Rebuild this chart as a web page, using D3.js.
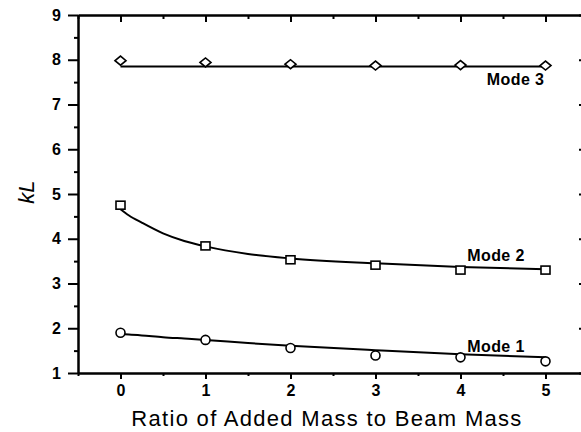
<!DOCTYPE html>
<html>
<head>
<meta charset="utf-8">
<script src="https://cdn.jsdelivr.net/npm/d3@7"></script>
<style>
  body { margin: 0; background: #fff; }
  svg text { font-family: "Liberation Sans", Arial, sans-serif; fill: #000; }
</style>
</head>
<body>
<svg id="chart" width="581" height="432"></svg>
<script>
// measured points
const ratio = [0, 1, 2, 3, 4, 5];
const mode1 = [1.90, 1.74, 1.56, 1.39, 1.35, 1.26];
const mode2 = [4.75, 3.84, 3.53, 3.41, 3.30, 3.30];
const mode3 = [7.98, 7.94, 7.90, 7.87, 7.88, 7.87];

// fitted curves
const fitX = [0, 0.1, 0.25, 0.5, 0.75, 1, 1.5, 2, 3, 4, 5];
const fit1 = [1.87, 1.86, 1.84, 1.80, 1.77, 1.74, 1.67, 1.61, 1.51, 1.42, 1.35];
const fit2 = [4.66, 4.52, 4.36, 4.12, 3.95, 3.83, 3.66, 3.56, 3.45, 3.37, 3.32];
const fit3 = [7.85, 7.85, 7.85, 7.85, 7.85, 7.85, 7.85, 7.85, 7.85, 7.85, 7.85];

const xTicks = [0, 1, 2, 3, 4, 5];
const yTicks = [1, 2, 3, 4, 5, 6, 7, 8, 9];

const svg = d3.select("#chart");

const x = d3.scaleLinear().domain([-0.5, 5.5]).range([78, 588]);
const y = d3.scaleLinear().domain([1, 9]).range([373, 15]);

const minorX = d3.range(-0.5, 5.51, 0.5).filter(v => !xTicks.includes(v));
const minorY = d3.range(1, 9.01, 0.5).filter(v => !yTicks.includes(v));

// axes
function styleAxis(g) {
    g.select(".domain").attr("stroke", "#000").attr("stroke-width", 2);
    g.selectAll(".tick line").attr("stroke", "#000").attr("stroke-width", 2);
    g.selectAll(".tick text")
        .style("font-size", "16px")
        .style("font-weight", "bold");
}

svg.append("g")
    .attr("transform", "translate(0,373)")
    .call(d3.axisBottom(x).tickValues(xTicks).tickSize(6).tickPadding(6).tickFormat(d3.format("d")).tickSizeOuter(0))
    .call(styleAxis);
svg.append("g")
    .attr("transform", "translate(0,373)")
    .call(d3.axisBottom(x).tickValues(minorX).tickSize(3).tickFormat("").tickSizeOuter(0))
    .call(styleAxis);

svg.append("g")
    .attr("transform", "translate(0,15)")
    .call(d3.axisTop(x).tickValues(xTicks).tickSize(-7).tickFormat("").tickSizeOuter(0))
    .call(styleAxis);
svg.append("g")
    .attr("transform", "translate(0,15)")
    .call(d3.axisTop(x).tickValues(minorX).tickSize(-4).tickFormat("").tickSizeOuter(0))
    .call(styleAxis);

svg.append("g")
    .attr("transform", "translate(78,0)")
    .call(d3.axisLeft(y).tickValues(yTicks).tickSize(10).tickPadding(7).tickFormat(d3.format("d")).tickSizeOuter(0))
    .call(styleAxis);
svg.append("g")
    .attr("transform", "translate(78,0)")
    .call(d3.axisLeft(y).tickValues(minorY).tickSize(4).tickFormat("").tickSizeOuter(0))
    .call(styleAxis);

svg.append("g")
    .attr("transform", "translate(588,0)")
    .call(d3.axisRight(y).tickValues(yTicks).tickSize(-9).tickFormat("").tickSizeOuter(0))
    .call(styleAxis);
svg.append("g")
    .attr("transform", "translate(588,0)")
    .call(d3.axisRight(y).tickValues(minorY).tickSize(-4).tickFormat("").tickSizeOuter(0))
    .call(styleAxis);

// fitted lines
const line = d3.line()
    .x(d => x(d[0]))
    .y(d => y(d[1]))
    .curve(d3.curveMonotoneX);

[fit1, fit2, fit3].forEach(f => {
    svg.append("path")
        .datum(fitX.map((v, i) => [v, f[i]]))
        .attr("d", line)
        .attr("fill", "none")
        .attr("stroke", "#000")
        .attr("stroke-width", 2);
});

// markers
svg.selectAll(".m1")
    .data(ratio.map((v, i) => [v, mode1[i]]))
    .enter().append("circle")
    .attr("class", "m1")
    .attr("cx", d => x(d[0]))
    .attr("cy", d => y(d[1]))
    .attr("r", 4.5)
    .attr("fill", "#fff")
    .attr("stroke", "#000")
    .attr("stroke-width", 1.6);

svg.selectAll(".m2")
    .data(ratio.map((v, i) => [v, mode2[i]]))
    .enter().append("rect")
    .attr("class", "m2")
    .attr("x", d => x(d[0]) - 4.5)
    .attr("y", d => y(d[1]) - 4)
    .attr("width", 9)
    .attr("height", 8)
    .attr("fill", "#fff")
    .attr("stroke", "#000")
    .attr("stroke-width", 1.6);

svg.selectAll(".m3")
    .data(ratio.map((v, i) => [v, mode3[i]]))
    .enter().append("path")
    .attr("class", "m3")
    .attr("transform", d => "translate(" + x(d[0]) + "," + y(d[1]) + ")")
    .attr("d", "M-5.5,0L0,-4.5L5.5,0L0,4.5Z")
    .attr("fill", "#fff")
    .attr("stroke", "#000")
    .attr("stroke-width", 1.6);

// mode labels
const modeLabels = [
    { text: "Mode 3", x: 4.31, y: 7.44 },
    { text: "Mode 2", x: 4.08, y: 3.5 },
    { text: "Mode 1", x: 4.08, y: 1.47 }
];
svg.selectAll(".mlabel")
    .data(modeLabels)
    .enter().append("text")
    .attr("class", "mlabel")
    .attr("x", d => x(d.x))
    .attr("y", d => y(d.y))
    .style("font-size", "16px")
    .style("font-weight", "bold")
    .style("letter-spacing", "0.4px")
    .text(d => d.text);

// axis titles
svg.append("text")
    .attr("x", 327)
    .attr("y", 426)
    .attr("text-anchor", "middle")
    .style("font-size", "22px")
    .style("letter-spacing", "1.3px")
    .text("Ratio of Added Mass to Beam Mass");

svg.append("text")
    .attr("transform", "translate(34,192) rotate(-90)")
    .attr("text-anchor", "middle")
    .style("font-size", "22px")
    .style("font-style", "italic")
    .text("kL");
</script>
</body>
</html>
